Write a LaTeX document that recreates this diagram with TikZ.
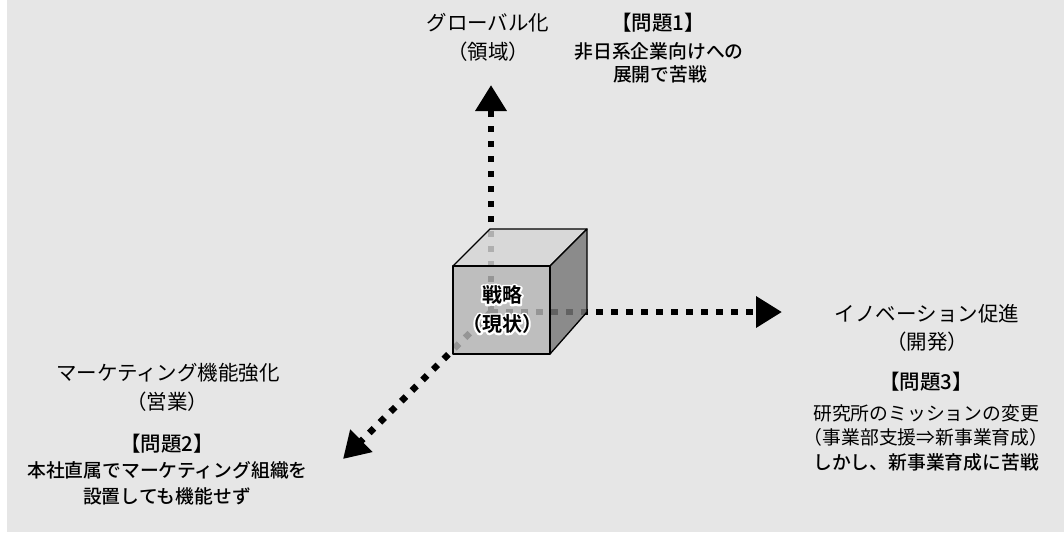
\documentclass[tikz,border=0pt]{standalone}
\usepackage{fontspec}
\IfFontExistsTF{Noto Sans CJK JP Medium}
  {\setmainfont{Noto Sans CJK JP}[BoldFont={Noto Sans CJK JP Medium}]}
  {\setmainfont{Noto Sans CJK JP}}
\newfontface\heavyjp{Noto Sans CJK JP Bold}
\usetikzlibrary{arrows.meta}
\definecolor{bgc}{RGB}{230,230,230}
\definecolor{topc}{RGB}{214,214,214}
\definecolor{frontc}{RGB}{182,182,182}
\definecolor{rightc}{RGB}{120,120,120}
\newcommand\halotext[1]{\rlap{\special{pdf:literal direct q 1 Tr 4 w 1 J 1 j 1 1 1 RG}#1\special{pdf:literal direct Q}}#1}
\tikzset{
  axis/.style={line width=6.5pt, dash pattern=on 6.5pt off 8.5pt,
    -{Triangle[length=26pt,width=30pt]}},
  face/.style={draw=black, line width=1.3pt, line join=round, fill opacity=0.82},
  ttl/.style={inner sep=0pt, font=\fontsize{20.5}{24}\selectfont},
  hdr/.style={inner sep=0pt, font=\fontsize{20.5}{24}\selectfont\bfseries},
  bod/.style={inner sep=0pt, font=\fontsize{18.8}{22}\selectfont},
  bodb/.style={inner sep=0pt, font=\fontsize{18.8}{22}\selectfont\bfseries},
  cub/.style={inner sep=0pt, font=\fontsize{20}{24}\selectfont\heavyjp},
}
\begin{document}
\begin{tikzpicture}[x=1pt,y=-1pt]
\useasboundingbox (0,0) rectangle (1064,533);
\fill[white] (0,0) rectangle (1064,533);
\fill[bgc] (7,0) rectangle (1064,532);

% axes
\coordinate (o) at (491,312);
\coordinate (up) at (491,85);
\coordinate (rt) at (782,312);
\coordinate (dl) at (343,459);
\draw[axis] (o) -- (up);
\draw[axis] (o) -- (rt);
\draw[axis] (o) -- (dl);

% cube
\filldraw[face, fill=topc] (453,266) -- (490,229) -- (587,229) -- (550,266) -- cycle;
\filldraw[face, fill=rightc] (550,266) -- (587,229) -- (587,312) -- (550,354) -- cycle;
\filldraw[face, fill=frontc] (453,266) rectangle (550,354);

% cube label with white halo
\node[cub] (cubel1) at (502,295) {\halotext{戦略}};
\node[cub] (cubel2) at (502,324) {\halotext{（現状）}};

% top labels
\node[ttl] (g1) at (488,23) {グローバル化};
\node[ttl] (g2) at (488,52) {（領域）};
\node[hdr] (p1) at (658,23) {【問題1】};
\node[bodb] (p1a) at (659,51) {非日系企業向けへの};
\node[bodb] (p1b) at (660,74) {展開で苦戦};

% left labels
\node[ttl] (m1) at (168,373) {マーケティング機能強化};
\node[ttl] (m2) at (167,402) {（営業）};
\node[hdr] (p2) at (167,444) {【問題2】};
\node[bodb] (p2a) at (167.5,470) {本社直属でマーケティング組織を};
\node[bodb] (p2b) at (167,496) {設置しても機能せず};

% right labels
\node[ttl] (i1) at (927,314) {イノベーション促進};
\node[ttl] (i2) at (927,342) {（開発）};
\node[hdr] (p3) at (926,382) {【問題3】};
\node[bod] (p3a) at (926,413) {研究所のミッションの変更};
\node[bod] (p3b) at (926,437.5) {（事業部支援⇒新事業育成）};
\node[bodb] (p3c) at (926,462) {しかし、新事業育成に苦戦};
\end{tikzpicture}
\end{document}
